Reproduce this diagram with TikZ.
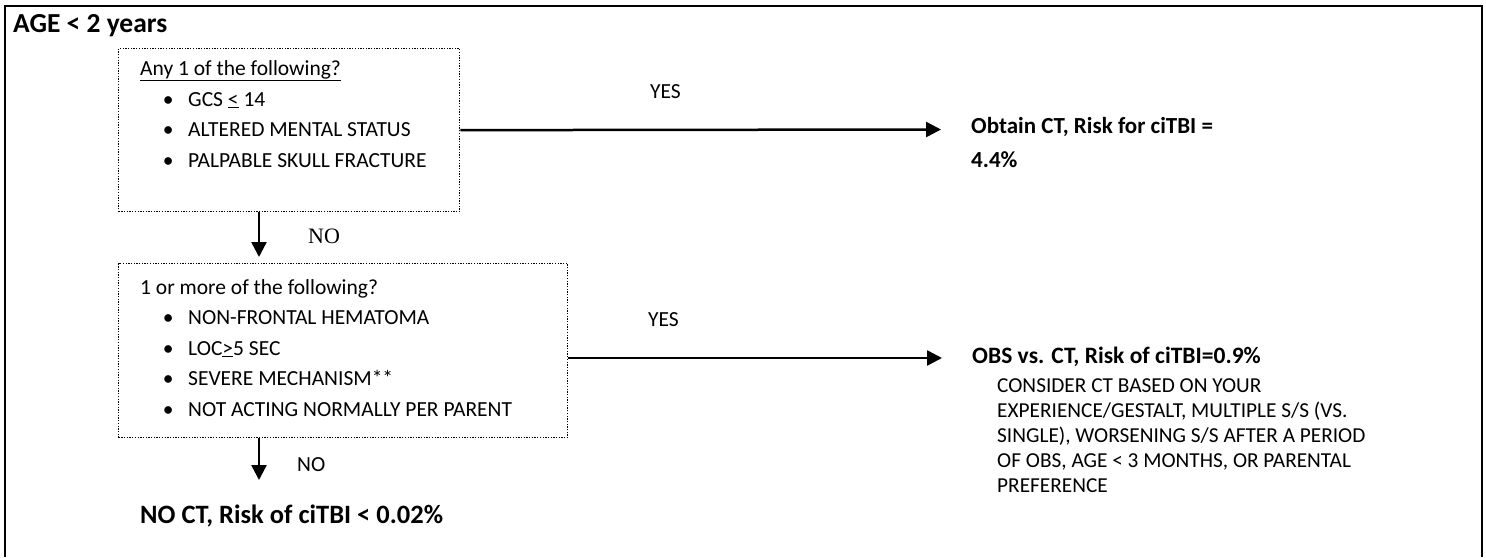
\documentclass[tikz,border=0pt]{standalone}
\usepackage{fontspec}
\setmainfont{Carlito}
\newfontfamily\timesfont{Liberation Serif}
\usetikzlibrary{arrows.meta}

\tikzset{
  frame/.style={line width=2pt},
  qbox/.style={draw, line width=1.3pt, dash pattern=on 1.3pt off 1.4pt, anchor=north west, inner sep=0pt},
  arr/.style={line width=2.5pt, -{Triangle[length=15pt,width=15pt]}},
  txt/.style={anchor=base west, inner sep=0pt, align=left},
}
\newcommand{\itm}{\makebox[48pt][r]{\textbullet\hspace{14.5pt}}}
\newcommand{\regfont}{\fontsize{21.5}{30.5}\selectfont}

\begin{document}
\begin{tikzpicture}[x=1pt,y=-1pt]
  \useasboundingbox (0,0) rectangle (1486,557);
  \draw[frame] (5,557) -- (5,6) -- (1482,6) -- (1482,557);
  \node[txt, font=\fontsize{27.5}{32}\selectfont\bfseries] (age) at (13,32) {AGE < 2 years};

  % first question (base = last line)
  \node[qbox, minimum width=341pt, minimum height=163pt] (box1) at (118,48) {};
  \node[txt, font=\regfont] (q1) at (140,167) {\underline{Any 1 of the following?}\\
    \itm GCS \underline{<} 14\\
    \itm ALTERED MENTAL STATUS\\
    \itm PALPABLE SKULL FRACTURE};
  \coordinate (yes1end) at (941,129.5);
  \draw[arr] (box1.east) -- (yes1end);
  \node[txt, font=\regfont] (yes1) at (650,98) {YES};
  \node[txt, font=\fontsize{23}{34}\selectfont\bfseries] (obtain) at (971,167) {Obtain CT, Risk for ciTBI =\\4.4\%};

  \coordinate (no1end) at (259,257);
  \draw[arr] (no1end |- box1.south) -- (no1end);
  \node[txt, font=\timesfont\fontsize{22}{26}\selectfont] (no1) at (308,243) {NO};

  % second question
  \node[qbox, minimum width=449pt, minimum height=174pt] (box2) at (118,263) {};
  \node[txt, font=\regfont] (q2) at (140,416) {1 or more of the following?\\
    \itm NON-FRONTAL HEMATOMA\\
    \itm LOC\underline{>}5 SEC\\
    \itm SEVERE MECHANISM**\\
    \itm NOT ACTING NORMALLY PER PARENT};
  \node[txt, font=\fontsize{23.5}{28}\selectfont\bfseries] (obs) at (972,363) {OBS vs. CT, Risk of ciTBI=0.9\%};
  \coordinate (yes2end) at (942,358);
  \draw[arr] (yes2end -| box2.east) -- (yes2end);
  \node[txt, font=\regfont] (yes2) at (648,326) {YES};
  \node[txt, font=\fontsize{21.3}{25}\selectfont] (consider) at (997,492) {CONSIDER CT BASED ON YOUR\\
    EXPERIENCE/GESTALT, MULTIPLE S/S (VS.\\
    SINGLE), WORSENING S/S AFTER A PERIOD\\
    OF OBS, AGE < 3 MONTHS, OR PARENTAL\\
    PREFERENCE};

  \coordinate (no2end) at (259,480);
  \draw[arr] (no2end |- box2.south) -- (no2end);
  \node[txt, font=\regfont] (no2) at (297,471) {NO};
  \node[txt, font=\fontsize{26.5}{32}\selectfont\bfseries] (noct) at (140,523) {NO CT, Risk of ciTBI < 0.02\%};
\end{tikzpicture}
\end{document}
